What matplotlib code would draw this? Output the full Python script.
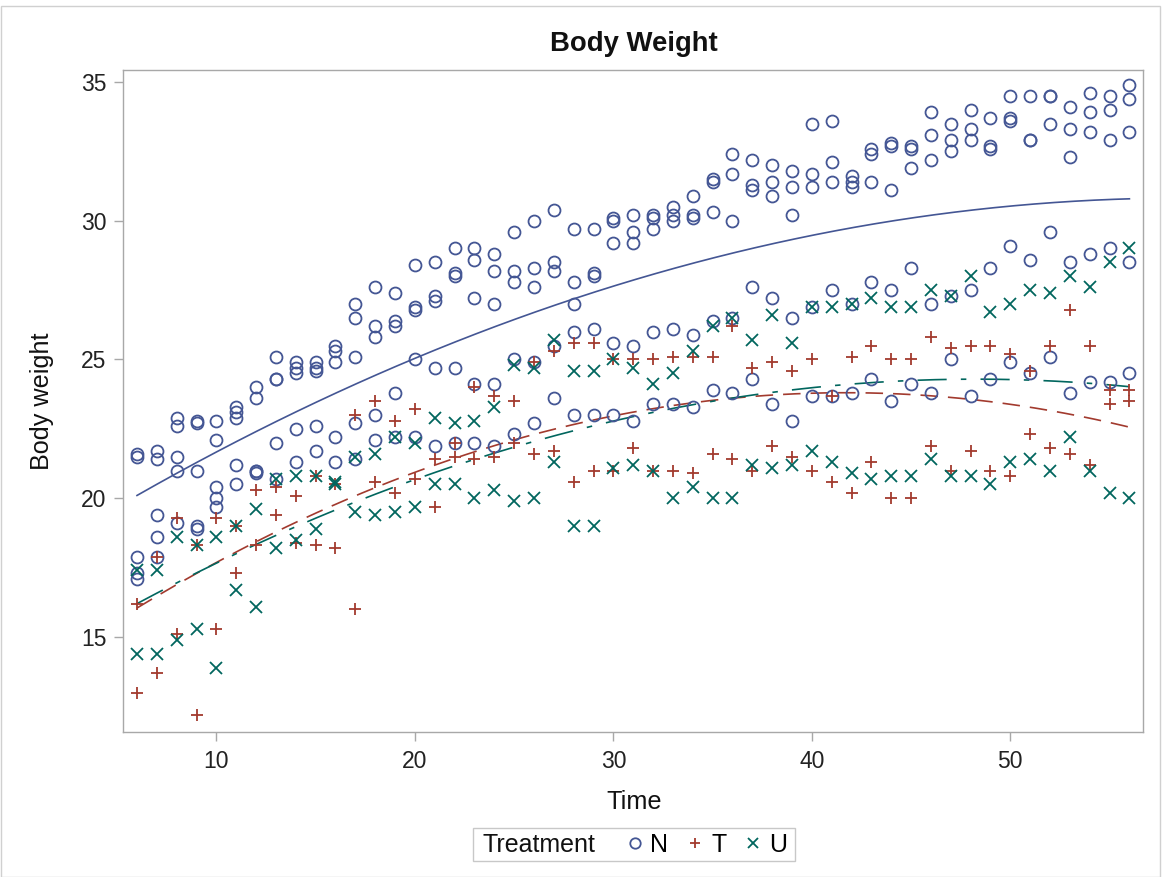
import numpy as np
import matplotlib
matplotlib.use("Agg")
import matplotlib.pyplot as plt
from matplotlib.lines import Line2D
from matplotlib.patches import Rectangle

plt.rcParams['font.family'] = ['Liberation Sans', 'DejaVu Sans']

# Measurement times (days) shared by all groups
times = list(range(6, 57))

# Body weight per time point, one inner list per time
weights_N = [
    [21.6, 21.5, 17.9, 17.3, 17.1], [21.7, 21.4, 19.4, 18.6, 17.9],
    [22.9, 22.6, 21.5, 21.0, 19.1], [22.8, 22.7, 21.0, 19.0, 18.9],
    [22.8, 22.1, 20.4, 20.0, 19.7], [23.3, 23.1, 22.9, 21.2, 20.5],
    [24.0, 23.6, 21.0, 21.0, 20.9], [25.1, 24.3, 24.3, 22.0, 20.7],
    [24.9, 24.7, 24.5, 22.5, 21.3], [24.9, 24.7, 24.6, 22.6, 21.7],
    [25.5, 25.3, 24.9, 22.2, 21.3], [27.0, 26.5, 25.1, 22.7, 21.4],
    [27.6, 26.2, 25.8, 23.0, 22.1], [27.4, 26.4, 26.2, 23.8, 22.2],
    [28.4, 26.9, 26.8, 25.0, 22.2], [28.5, 27.3, 27.1, 24.7, 21.9],
    [29.0, 28.1, 28.0, 24.7, 22.0], [29.0, 28.6, 27.2, 24.1, 22.0],
    [28.8, 28.2, 27.0, 24.1, 21.9], [29.6, 28.2, 27.8, 25.0, 22.3],
    [30.0, 28.3, 27.6, 24.9, 22.7], [30.4, 28.5, 28.2, 25.5, 23.6],
    [29.7, 27.8, 27.0, 26.0, 23.0], [29.7, 28.1, 28.0, 26.1, 23.0],
    [30.1, 30.0, 29.2, 25.6, 23.0], [30.2, 29.6, 29.2, 25.5, 22.8],
    [30.2, 30.1, 29.7, 26.0, 23.4], [30.5, 30.2, 30.0, 26.1, 23.4],
    [30.9, 30.2, 30.1, 25.9, 23.3], [31.5, 31.4, 30.3, 26.4, 23.9],
    [32.4, 31.7, 30.0, 26.5, 23.8], [32.2, 31.3, 31.1, 27.6, 24.3],
    [32.0, 31.4, 30.9, 27.2, 23.4], [31.8, 31.2, 30.2, 26.5, 22.8],
    [33.5, 31.7, 31.2, 26.9, 23.7], [33.6, 32.1, 31.4, 27.5, 23.7],
    [31.6, 31.4, 31.2, 27.0, 23.8], [32.6, 32.4, 31.4, 27.8, 24.3],
    [32.8, 32.7, 31.1, 27.5, 23.5], [32.7, 32.6, 31.9, 28.3, 24.1],
    [33.9, 33.1, 32.2, 27.0, 23.8], [33.5, 32.9, 32.5, 27.3, 25.0],
    [34.0, 33.3, 32.9, 27.5, 23.7], [33.7, 32.7, 32.6, 28.3, 24.3],
    [34.5, 33.7, 33.6, 29.1, 24.9], [34.5, 32.9, 32.9, 28.6, 24.5],
    [34.5, 34.5, 33.5, 29.6, 25.1], [34.1, 33.3, 32.3, 28.5, 23.8],
    [34.6, 33.9, 33.2, 28.8, 24.2], [34.5, 34.0, 32.9, 29.0, 24.2],
    [34.9, 34.4, 33.2, 28.5, 24.5],
]

weights_T = [
    [16.2, 13.0], [17.9, 13.7], [19.3, 15.1], [18.3, 12.2], [19.3, 15.3],
    [19.0, 17.3], [20.3, 18.3], [20.4, 19.4], [20.1, 18.4], [20.8, 18.3],
    [20.5, 18.2], [23.0, 16.0], [23.5, 20.6], [22.8, 20.2], [23.2, 20.7],
    [21.4, 19.7], [22.0, 21.5], [24.0, 21.4], [23.7, 21.5], [23.5, 22.0],
    [24.9, 21.6], [25.3, 21.7], [25.6, 20.6], [25.6, 21.0], [25.0, 21.0],
    [25.0, 21.8], [25.0, 21.0], [25.1, 21.0], [25.1, 20.9], [25.1, 21.6],
    [26.2, 21.4], [24.7, 21.0], [24.9, 21.9], [24.6, 21.5], [25.0, 21.0],
    [23.7, 20.6], [25.1, 20.2], [25.5, 21.3], [25.0, 20.0], [25.0, 20.0],
    [25.8, 21.9], [25.4, 21.0], [25.5, 21.7], [25.5, 21.0], [25.2, 20.8],
    [24.6, 22.3], [25.5, 21.8], [26.8, 21.6], [25.5, 21.2], [23.9, 23.4],
    [23.9, 23.5],
]

weights_U = [
    [17.4, 14.4], [17.4, 14.4], [18.6, 14.9], [18.3, 15.3], [18.6, 13.9],
    [19.0, 16.7], [19.6, 16.1], [20.7, 18.2], [20.8, 18.5], [20.8, 18.9],
    [20.6, 20.5], [21.5, 19.5], [21.6, 19.4], [22.2, 19.5], [22.0, 19.7],
    [22.9, 20.5], [22.7, 20.5], [22.8, 20.0], [23.3, 20.3], [24.8, 19.9],
    [24.7, 20.0], [25.7, 21.3], [24.6, 19.0], [24.6, 19.0], [25.0, 21.1],
    [24.7, 21.2], [24.1, 21.0], [24.5, 20.0], [25.3, 20.4], [26.2, 20.0],
    [26.5, 20.0], [25.7, 21.2], [26.6, 21.1], [25.6, 21.2], [26.9, 21.7],
    [26.9, 21.3], [27.0, 20.9], [27.2, 20.7], [26.9, 20.8], [26.9, 20.8],
    [27.5, 21.4], [27.3, 20.8], [28.0, 20.8], [26.7, 20.5], [27.0, 21.3],
    [27.5, 21.4], [27.4, 21.0], [28.0, 22.2], [27.6, 21.0], [28.5, 20.2],
    [29.0, 20.0],
]

groups = ['N', 'T', 'U']
colors = {'N': '#445694', 'T': '#A23A2E', 'U': '#01665E'}
markers = {'N': 'o', 'T': '+', 'U': 'x'}
dashes = {'N': '-', 'T': (0, (10.5, 6.0)), 'U': (0, (17.5, 8.5, 3.3, 8.5))}
data = {'N': weights_N, 'T': weights_T, 'U': weights_U}

W, H = 1164, 877
fig = plt.figure(figsize=(W / 100, H / 100), dpi=100)
ax = fig.add_axes([123.3 / W, 1 - 732 / H, (1143.3 - 123.3) / W, (732 - 69.7) / H])

for g in groups:
    xs = np.array([t for t, ws in zip(times, data[g]) for _ in ws], dtype=float)
    ys = np.array([w for ws in data[g] for w in ws], dtype=float)
    ax.plot(xs, ys, linestyle='none', marker=markers[g], ms=8.6, mew=1.3,
            mfc='none', mec=colors[g], color=colors[g], zorder=3)
    # quadratic trend through each group's points
    coef = np.polyfit(xs, ys, 2)
    tt = np.linspace(min(times), max(times), 200)
    ax.plot(tt, np.polyval(coef, tt), color=colors[g], lw=1.2,
            linestyle=dashes[g], zorder=2)

ax.set_xlim(5.31, 56.7)
ax.set_ylim(11.58, 35.44)
ax.set_xticks([10, 20, 30, 40, 50])
ax.set_yticks([15, 20, 25, 30, 35])
for s in ax.spines.values():
    s.set_color('#A8A8A8')
    s.set_linewidth(1.0)
ax.tick_params(axis='both', colors='#A8A8A8', labelcolor='#222222',
               labelsize=16.5, length=6.5, width=1.0)
ax.tick_params(axis='x', pad=6.5)
ax.tick_params(axis='y', pad=5.5)

fig.text(634 / W, 1 - 44 / H, 'Body Weight', ha='center', va='center',
         fontsize=19.8, fontweight='bold', color='#111111')
fig.text(634 / W, 1 - 802 / H, 'Time', ha='center', va='center',
         fontsize=18.2, color='#111111')
fig.text(41.7 / W, 1 - 401 / H, 'Body weight', ha='center', va='center',
         rotation=90, fontsize=18.2, color='#111111')

# legend box: "Treatment" title at left, then the three groups
fig.patches.append(Rectangle((473 / W, 1 - 861 / H), (795 - 473) / W, 33 / H,
                             transform=fig.transFigure, fill=False,
                             edgecolor='#C8C8C8', lw=1.0))
fig.text(482 / W, 1 - 844.5 / H, 'Treatment', ha='left', va='center',
         fontsize=18, color='#111111')
handles = [Line2D([], [], linestyle='none', marker=markers[g], ms=7.5, mew=1.3,
                  mfc='none', mec=colors[g]) for g in groups]
fig.legend(handles, groups, loc='center left',
           bbox_to_anchor=(628 / W, 1 - 844.5 / H), ncol=3, frameon=False,
           fontsize=18, handlelength=0.55, handletextpad=0.35,
           columnspacing=0.8, borderpad=0, borderaxespad=0)

fig.patches.append(Rectangle((0.5 / W, 0.5 / H), 1 - 5 / W, 1 - 6 / H,
                             transform=fig.transFigure, fill=False,
                             edgecolor='#D0D0D0', lw=1.0))

fig.savefig('out.png', dpi=100)
